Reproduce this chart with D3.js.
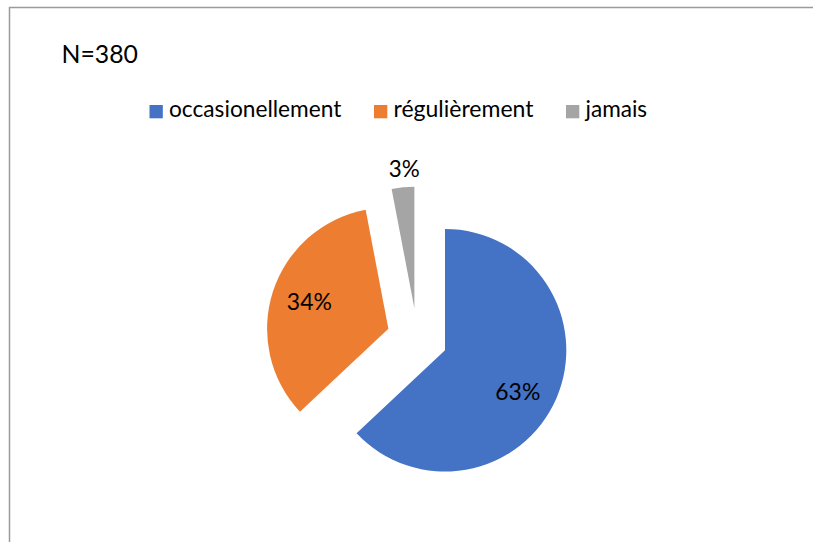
<!DOCTYPE html>
<html>
<head>
<meta charset="utf-8">
<script src="https://cdn.jsdelivr.net/npm/d3@7"></script>
<style>
  html, body { margin: 0; padding: 0; background: #fff; }
  svg { display: block; font-family: Lato, "Open Sans", sans-serif; }
</style>
</head>
<body>
<svg id="chart" width="813" height="542"></svg>
<script>
// Survey answers, share of respondents (%)
const categories = ["occasionellement", "régulièrement", "jamais"];
const shares = [63, 34, 3];
const colors = ["#4472C4", "#ED7D31", "#A5A5A5"];
const sampleLabel = "N=380";

const svg = d3.select("#chart");
const W = 813, H = 542;

// fit a text element to a given rendered width
function fitWidth(sel, w) {
  sel.attr("textLength", w).attr("lengthAdjust", "spacingAndGlyphs");
}

// chart frame (extends past the right and bottom edges)
svg.append("rect")
  .attr("x", 9.5).attr("y", 7.5)
  .attr("width", W + 20).attr("height", H + 20)
  .attr("fill", "#fff")
  .attr("stroke", "#9a9a9a")
  .attr("stroke-width", 1.5);

// sample size title
svg.append("text")
  .attr("x", 61.5).attr("y", 63.2)
  .attr("font-size", 25)
  .attr("fill", "#000")
  .text(sampleLabel)
  .call(fitWidth, 76.5);

// legend
const legendX = [149.5, 374, 566];
const legendW = [172.4, 140, 61.6];
const legend = svg.append("g");
categories.forEach((c, i) => {
  legend.append("rect")
    .attr("x", legendX[i]).attr("y", 105)
    .attr("width", 13.3).attr("height", 13.3)
    .attr("fill", colors[i]);
  legend.append("text")
    .attr("x", legendX[i] + 19.5).attr("y", 116.7)
    .attr("font-size", 24)
    .attr("fill", "#000")
    .text(c)
    .call(fitWidth, legendW[i]);
});

// exploded pie
const cx = 417.2, cy = 338.2, r = 121.3, explode = 30.3;
// small per-label adjustments of the data label placement (px)
const labelNudge = [[-3.5, 8], [0, -2], [3, -1]];
const pie = d3.pie().sort(null).value(d => d)(shares);
const arc = d3.arc().innerRadius(0).outerRadius(r);

const slices = svg.append("g").attr("transform", `translate(${cx},${cy})`)
  .selectAll("g").data(pie).join("g")
  .attr("transform", d => {
    const a = (d.startAngle + d.endAngle) / 2;
    return `translate(${explode * Math.sin(a)},${-explode * Math.cos(a)})`;
  });

slices.append("path")
  .attr("d", arc)
  .attr("fill", (d, i) => colors[i]);

// percentage labels: inside for large slices, outside for thin ones
slices.append("text")
  .attr("transform", (d, i) => {
    const a = (d.startAngle + d.endAngle) / 2;
    const lr = d.data < 5 ? r * 1.15 : r * 0.685;
    const [nx, ny] = labelNudge[i];
    return `translate(${lr * Math.sin(a) + nx},${-lr * Math.cos(a) + ny})`;
  })
  .attr("text-anchor", "middle")
  .attr("dy", "0.36em")
  .attr("font-size", 24)
  .attr("fill", "#000")
  .text(d => d.data + "%")
  .each(function (d) {
    d3.select(this).call(fitWidth, d.data < 10 ? 31 : 45);
  });
</script>
</body>
</html>
